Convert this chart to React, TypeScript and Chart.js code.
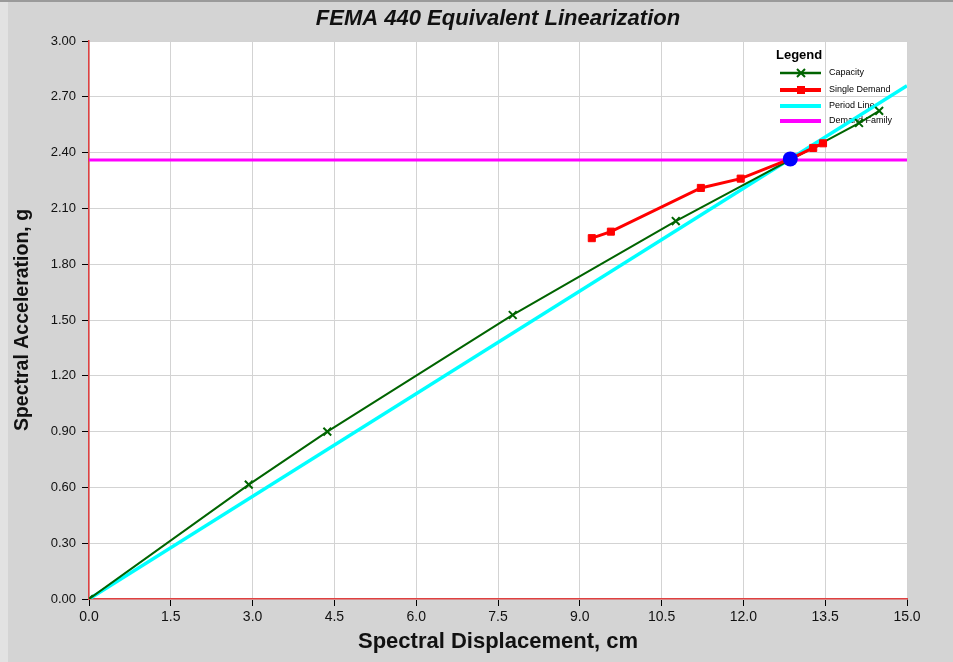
import React, { useEffect, useRef } from "react";
import { Chart, registerables } from "chart.js";

Chart.register(...registerables);

const chartTitle = "FEMA 440 Equivalent Linearization";
const xAxisTitle = "Spectral Displacement, cm";
const yAxisTitle = "Spectral Acceleration, g";

const xTicks = [0, 1.5, 3, 4.5, 6, 7.5, 9, 10.5, 12, 13.5, 15];
const yTicks = [0, 0.3, 0.6, 0.9, 1.2, 1.5, 1.8, 2.1, 2.4, 2.7, 3.0];

const capacityX = [0, 2.93, 4.37, 7.77, 10.76, 14.12, 14.49];
const capacityY = [0, 0.615, 0.9, 1.527, 2.032, 2.559, 2.624];

const demandX = [9.22, 9.57, 11.22, 11.95, 12.86, 13.28, 13.46];
const demandY = [1.94, 1.975, 2.21, 2.26, 2.366, 2.425, 2.45];

const periodX = [0, 15];
const periodY = [0, 2.76];

const familyX = [0, 15];
const familyY = [2.36, 2.36];

const perfX = [12.86];
const perfY = [2.366];

const legendLabels = ["Capacity", "Single Demand", "Period Line", "Demand Family"];

const toPts = (xs: number[], ys: number[]) => xs.map((x, i) => ({ x, y: ys[i] }));

const FONT = "'Liberation Sans', Arial, Helvetica, sans-serif";

const bgPlugin = {
  id: "bgPlugin",
  beforeDraw(chart: any) {
    const { ctx, width, height, chartArea } = chart;
    ctx.save();
    ctx.fillStyle = "#d4d4d4";
    ctx.fillRect(0, 0, width, height);
    ctx.fillStyle = "#e2e2e2";
    ctx.fillRect(0, 0, 8, height);
    ctx.fillStyle = "#9a9a9a";
    ctx.fillRect(0, 0, width, 2);
    ctx.fillStyle = "#ffffff";
    ctx.fillRect(chartArea.left, chartArea.top, chartArea.right - chartArea.left, chartArea.bottom - chartArea.top);
    ctx.restore();
  },
  afterDraw(chart: any) {
    const { ctx, chartArea } = chart;
    ctx.save();
    ctx.fillStyle = "#111";
    ctx.font = `italic bold 22px ${FONT}`;
    ctx.textAlign = "center";
    ctx.textBaseline = "middle";
    ctx.fillText(chartTitle, (chartArea.left + chartArea.right) / 2, 19);
    ctx.restore();
  },
};

const legendPlugin = {
  id: "customLegend",
  beforeDatasetsDraw(chart: any) {
    const { ctx } = chart;
    const colors = ["#006400", "#ff0000", "#00ffff", "#ff00ff"];
    const ys = [73, 90, 106, 121];
    ctx.save();
    ctx.fillStyle = "#000";
    ctx.font = `bold 13px ${FONT}`;
    ctx.textBaseline = "middle";
    ctx.textAlign = "left";
    ctx.fillText("Legend", 776, 55);
    ctx.font = `9px ${FONT}`;
    legendLabels.forEach((lab, i) => {
      const y = ys[i];
      ctx.strokeStyle = colors[i];
      ctx.lineWidth = i === 0 ? 2.5 : 4;
      ctx.beginPath();
      ctx.moveTo(780, y);
      ctx.lineTo(821, y);
      ctx.stroke();
      if (i === 0) {
        ctx.lineWidth = 2;
        ctx.beginPath();
        ctx.moveTo(797, y - 4);
        ctx.lineTo(805, y + 4);
        ctx.moveTo(805, y - 4);
        ctx.lineTo(797, y + 4);
        ctx.stroke();
      }
      if (i === 1) {
        ctx.fillStyle = "#ff0000";
        ctx.fillRect(797, y - 4, 8, 8);
      }
      ctx.fillStyle = "#000";
      ctx.fillText(lab, 829, y);
    });
    ctx.restore();
  },
};

export default function App() {
  const ref = useRef<HTMLCanvasElement | null>(null);
  useEffect(() => {
    if (!ref.current) return;
    Chart.defaults.font.family = FONT;
    const chart = new Chart(ref.current, {
      type: "scatter",
      data: {
        datasets: [
          {
            label: "Performance Point",
            data: toPts(perfX, perfY),
            showLine: false,
            pointStyle: "circle",
            pointRadius: 7.5,
            pointBackgroundColor: "#0000ff",
            pointBorderColor: "#0000ff",
            borderWidth: 0,
            order: 0,
          } as any,
          {
            label: "Single Demand",
            data: toPts(demandX, demandY),
            showLine: true,
            borderColor: "#ff0000",
            backgroundColor: "#ff0000",
            borderWidth: 3,
            pointStyle: "rect",
            pointRadius: 5,
            pointBorderWidth: 1,
            pointBackgroundColor: "#ff0000",
            pointBorderColor: "#ff0000",
            order: 1,
          },
          {
            label: "Capacity",
            data: toPts(capacityX, capacityY),
            showLine: true,
            borderColor: "#006400",
            backgroundColor: "#006400",
            borderWidth: 2,
            pointStyle: "crossRot",
            pointRadius: 5.5,
            pointBorderWidth: 2,
            pointBorderColor: "#006400",
            order: 2,
          },
          {
            label: "Period Line",
            data: toPts(periodX, periodY),
            showLine: true,
            borderColor: "#00ffff",
            borderWidth: 3.5,
            pointRadius: 0,
            order: 3,
          },
          {
            label: "Demand Family",
            data: toPts(familyX, familyY),
            showLine: true,
            borderColor: "#ff00ff",
            borderWidth: 3,
            pointRadius: 0,
            order: 4,
          },
        ],
      },
      options: {
        animation: false,
        responsive: false,
        devicePixelRatio: 1,
        layout: { padding: { top: 41, right: 46, bottom: 0, left: 0 } },
        plugins: {
          legend: { display: false },
          title: { display: false },
          tooltip: { enabled: false },
        },
        scales: {
          x: {
            type: "linear",
            min: 0,
            max: 15,
            afterBuildTicks: (s: any) => {
              s.ticks = xTicks.map((v) => ({ value: v }));
            },
            afterFit: (s: any) => {
              s.height = 63;
            },
            ticks: {
              callback: (v: any) => Number(v).toFixed(1),
              color: "#111",
              font: { size: 14 },
              padding: 3,
              maxRotation: 0,
              autoSkip: false,
            },
            grid: { color: "#d3d3d3", lineWidth: 1, tickColor: "#000", tickLength: 7 },
            border: { color: "#e04040", width: 1.5 },
            title: {
              display: true,
              text: xAxisTitle,
              color: "#111",
              font: { size: 22, weight: "bold" },
              padding: { top: 0, bottom: 7 },
            },
          },
          y: {
            type: "linear",
            min: 0,
            max: 3,
            afterBuildTicks: (s: any) => {
              s.ticks = yTicks.map((v) => ({ value: v }));
            },
            afterFit: (s: any) => {
              s.width = 89;
            },
            ticks: {
              callback: (v: any) => Number(v).toFixed(2),
              color: "#111",
              font: { size: 13 },
              padding: 6,
              autoSkip: false,
            },
            grid: { color: "#d3d3d3", lineWidth: 1, tickColor: "#000", tickLength: 7 },
            border: { color: "#e04040", width: 1.5 },
            title: {
              display: true,
              text: yAxisTitle,
              color: "#111",
              font: { size: 19.5, weight: "bold" },
              padding: { top: 11, bottom: 0 },
            },
          },
        },
      },
      plugins: [bgPlugin, legendPlugin],
    } as any);
    return () => chart.destroy();
  }, []);
  return (
    <div style={{ position: "fixed", left: 0, top: 0, width: 953, height: 662 }}>
      <canvas ref={ref} width={953} height={662} style={{ width: 953, height: 662, display: "block" }} />
    </div>
  );
}
